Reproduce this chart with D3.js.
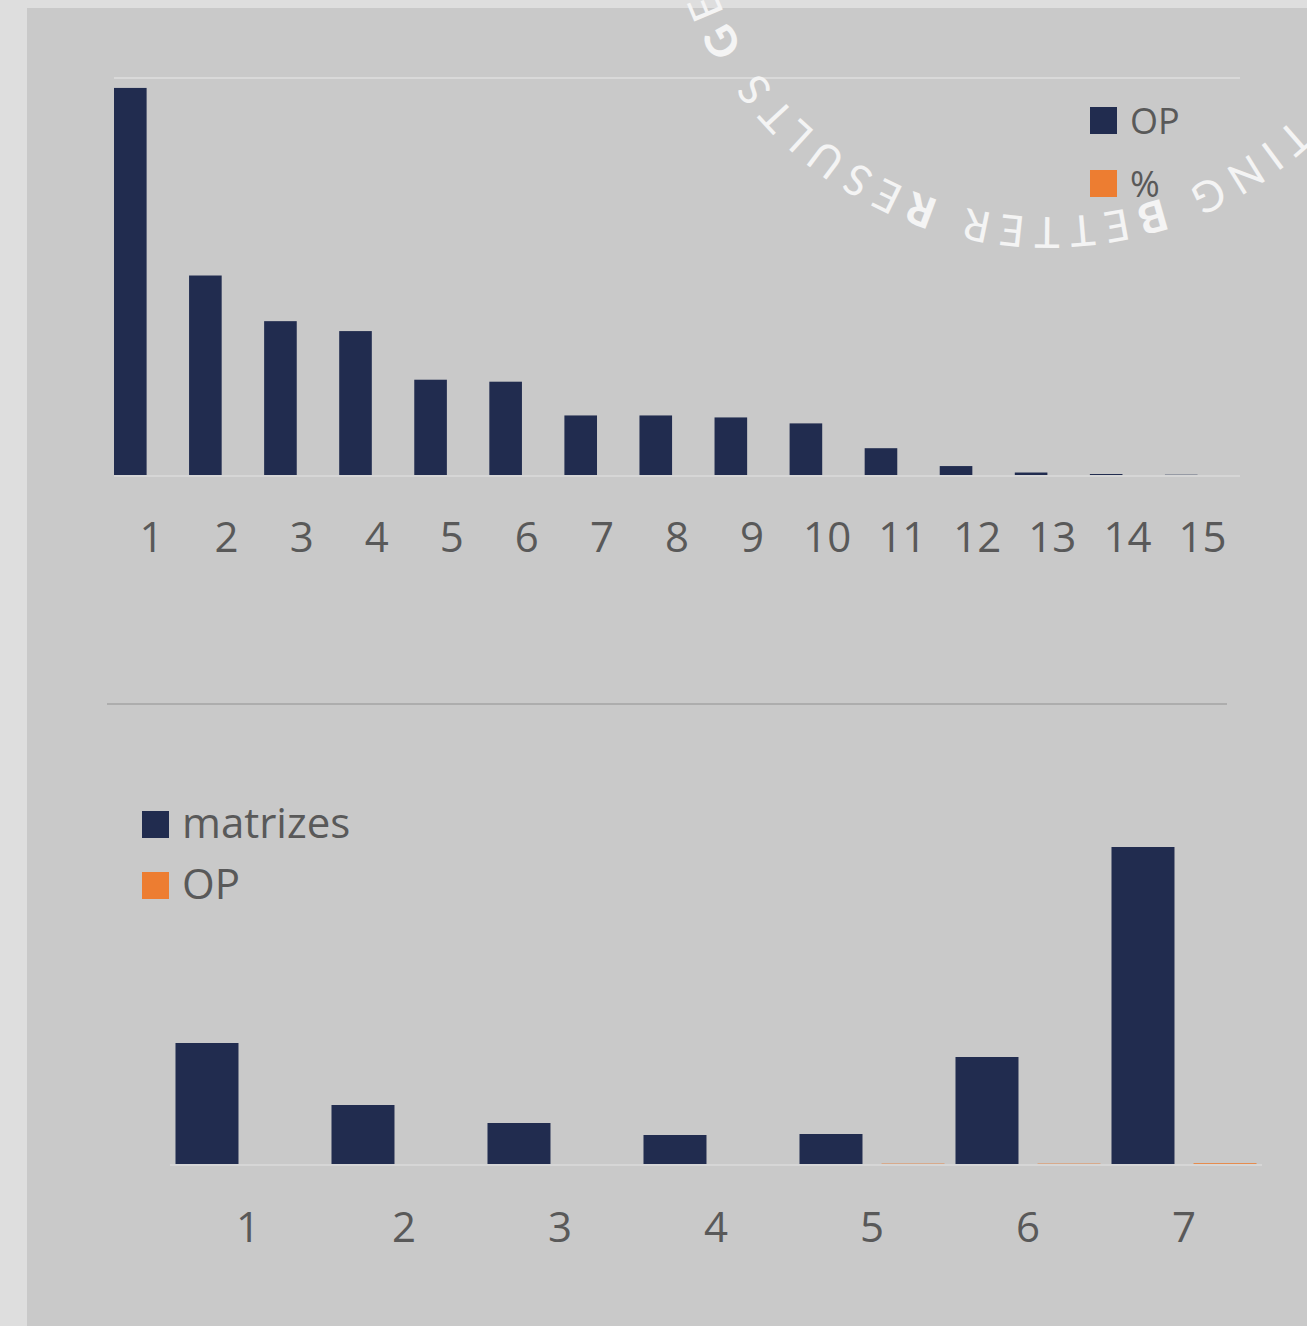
<!DOCTYPE html>
<html>
<head>
<meta charset="utf-8">
<script src="https://cdn.jsdelivr.net/npm/d3@7"></script>
<style>
  body { margin: 0; background: #dedede; }
  svg { display: block; }
</style>
</head>
<body>
<div id="chart"></div>
<script>
var topCats = ["1", "2", "3", "4", "5", "6", "7", "8", "9", "10", "11", "12", "13", "14", "15"];
var topOP = [390, 201, 155, 145, 96, 94, 60, 60, 58, 52, 27, 9, 2.5, 1, 0.3];
var topPct = [0, 0, 0, 0, 0, 0, 0, 0, 0, 0, 0, 0, 0, 0, 0];
var topSeries = ["OP", "%"];

var bottomCats = ["1", "2", "3", "4", "5", "6", "7"];
var bottomMatrizes = [121, 59, 41, 29, 30, 107, 317];
var bottomOP = [0, 0, 0, 0, 0.4, 0.4, 0.8];
var bottomSeries = ["matrizes", "OP"];

var watermark = ["G", "ETTING ", "B", "ETTER ", "R", "ESULTS ", "G", "ETTING ", "B", "ETTER ", "R", "ESULTS"];

var navy = "#212c4f";
var orange = "#ed7d31";
var textGray = "#595959";
var W = 1307, H = 1326;

var svg = d3.select("#chart")
  .append("svg")
  .attr("width", W)
  .attr("height", H);

svg.append("rect")
  .attr("width", W)
  .attr("height", H)
  .attr("fill", "#dedede");

svg.append("rect")
  .attr("x", 27)
  .attr("y", 8)
  .attr("width", W - 27)
  .attr("height", H - 8)
  .attr("fill", "#c9c9c9");

function drawChart(opt) {
  var g = svg.append("g");

  var x = d3.scaleBand()
    .domain(opt.cats)
    .range(opt.xRange)
    .padding(0);

  var xs = d3.scaleBand()
    .domain(opt.series)
    .range([0, x.bandwidth()])
    .paddingInner(opt.pIn)
    .paddingOuter(opt.pOut);

  var y = d3.scaleLinear()
    .domain([0, 400])
    .range(opt.yRange);

  if (opt.grid) {
    g.append("line")
      .attr("x1", opt.xRange[0])
      .attr("x2", opt.xRange[1])
      .attr("y1", y(400))
      .attr("y2", y(400))
      .attr("stroke", "#d9d9d9")
      .attr("stroke-width", 2);
  }

  var rows = opt.cats.map(function(c, i) {
    return { cat: c, vals: [opt.a[i], opt.b[i]] };
  });

  var groups = g.selectAll("g.cat")
    .data(rows)
    .enter()
    .append("g")
    .attr("class", "cat")
    .attr("transform", function(d) {
      return "translate(" + x(d.cat) + ",0)";
    });

  g.append("line")
    .attr("x1", opt.xRange[0])
    .attr("x2", opt.xRange[1])
    .attr("y1", y(0) + 1)
    .attr("y2", y(0) + 1)
    .attr("stroke", "#d6d6d6")
    .attr("stroke-width", 2);

  groups.selectAll("rect")
    .data(function(d) {
      return d.vals.map(function(v, j) { return { s: opt.series[j], v: v }; });
    })
    .enter()
    .append("rect")
    .attr("x", function(d) { return xs(d.s); })
    .attr("y", function(d) { return y(d.v); })
    .attr("width", xs.bandwidth())
    .attr("height", function(d) { return y(0) - y(d.v); })
    .attr("fill", function(d, j) { return j == 0 ? navy : orange; });

  var axis = g.append("g")
    .attr("transform", "translate(0," + y(0) + ")")
    .call(d3.axisBottom(x).tickSize(0).tickPadding(opt.tickPad));
  axis.select(".domain").remove();
  axis.selectAll("text")
    .attr("fill", textGray)
    .style("font-family", "'Open Sans', sans-serif")
    .style("font-size", "42px");

  var legend = g.selectAll("g.leg")
    .data(opt.series)
    .enter()
    .append("g")
    .attr("class", "leg")
    .attr("transform", function(d, i) {
      return "translate(" + opt.legX + "," + (opt.legY + i * opt.legStep) + ")";
    });

  legend.append("rect")
    .attr("width", 27)
    .attr("height", 27)
    .attr("fill", function(d, i) { return i == 0 ? navy : orange; });

  legend.append("text")
    .attr("x", 40)
    .attr("y", 27)
    .attr("fill", textGray)
    .style("font-family", "'Open Sans', sans-serif")
    .style("font-size", opt.legSize + "px")
    .text(function(d) { return d; });
}

drawChart({
  cats: topCats, series: topSeries, a: topOP, b: topPct,
  xRange: [114, 1240], yRange: [475, 78], pIn: 0.232, pOut: 0,
  grid: true, tickPad: 47,
  legX: 1090, legY: 107, legStep: 63, legSize: 36
});

// separator between the two charts
svg.append("line")
  .attr("x1", 107)
  .attr("x2", 1227)
  .attr("y1", 704)
  .attr("y2", 704)
  .attr("stroke", "#adadad")
  .attr("stroke-width", 2);

drawChart({
  cats: bottomCats, series: bottomSeries, a: bottomMatrizes, b: bottomOP,
  xRange: [170, 1262], yRange: [1164, 764], pIn: 0.232, pOut: 0.067,
  grid: false, tickPad: 48,
  legX: 142, legY: 811, legStep: 61, legSize: 42
});

// circular watermark text
var cx = 1047, cy = -140, r = 357;
svg.append("path")
  .attr("id", "ring")
  .attr("fill", "none")
  .attr("d", "M" + (cx + r) + "," + cy +
    " A" + r + "," + r + " 0 1 1 " + (cx - r) + "," + cy +
    " A" + r + "," + r + " 0 1 1 " + (cx + r) + "," + cy);

var ring = svg.append("text")
  .attr("fill", "#f4f4f4")
  .style("font-family", "Lato, sans-serif")
  .style("font-size", "43px")
  .style("letter-spacing", "8.5px")
  .append("textPath")
  .attr("href", "#ring")
  .attr("startOffset", r * 31 * Math.PI / 180 - 12);

ring.selectAll("tspan")
  .data(watermark)
  .enter()
  .append("tspan")
  .style("font-weight", function(d) { return d.length == 1 ? 900 : 400; })
  .text(function(d) { return d; });
</script>
</body>
</html>
